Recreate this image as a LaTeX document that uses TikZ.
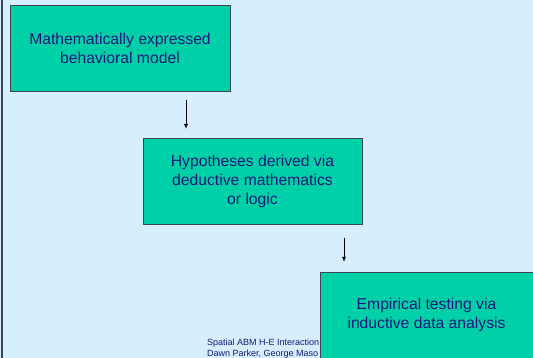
\documentclass[tikz,border=0pt]{standalone}
\usepackage{fontspec}
\setmainfont{Liberation Sans}
\usepackage{xcolor}
\usepackage{tikz}
\usetikzlibrary{arrows.meta}
\definecolor{slidebg}{RGB}{214,239,255}
\definecolor{boxfill}{RGB}{0,208,168}
\definecolor{boxtext}{RGB}{24,24,120}
\definecolor{edgegray}{RGB}{60,70,85}

\begin{document}
\begin{tikzpicture}[x=1pt,y=-1pt]
\tikzstyle{stage}=[draw=edgegray, line width=0.8pt, fill=boxfill, text=boxtext, align=center, font=\fontsize{15.7}{19}\selectfont, inner sep=0pt, minimum height=86pt]
\tikzstyle{flow}=[black, line width=0.9pt, -{Latex[length=5pt,width=4pt]}]
\useasboundingbox (0,0) rectangle (533,358);
\clip (0,0) rectangle (533,358);
\fill [slidebg] (0,0) rectangle (533,358);
\draw [edgegray, line width=1.5pt] (2,0) -- (2,358);
% stages of the method
\node [stage, minimum width=220pt] (model) at (120,48) {Mathematically expressed\\behavioral model};
\node [stage, minimum width=219pt] (hypo) at (252.5,181) {Hypotheses derived via\\deductive mathematics\\or logic};
% footer sits behind the last box
\node [anchor=west, align=left, text=boxtext, font=\fontsize{9}{11.3}\selectfont, inner sep=0pt] (credit) at (207,348.5) {Spatial ABM H-E Interaction\\Dawn Parker, George Maso};
\node [stage, minimum width=213pt] (test) at (426.5,315) {Empirical testing via\\inductive data analysis};
% arrows between the stages
\coordinate (a1) at (186,100);
\coordinate (b1) at (186,129);
\coordinate (a2) at (344,238);
\coordinate (b2) at (344,262);
\draw [flow] (a1) -- (b1);
\draw [flow] (a2) -- (b2);
\end{tikzpicture}
\end{document}
